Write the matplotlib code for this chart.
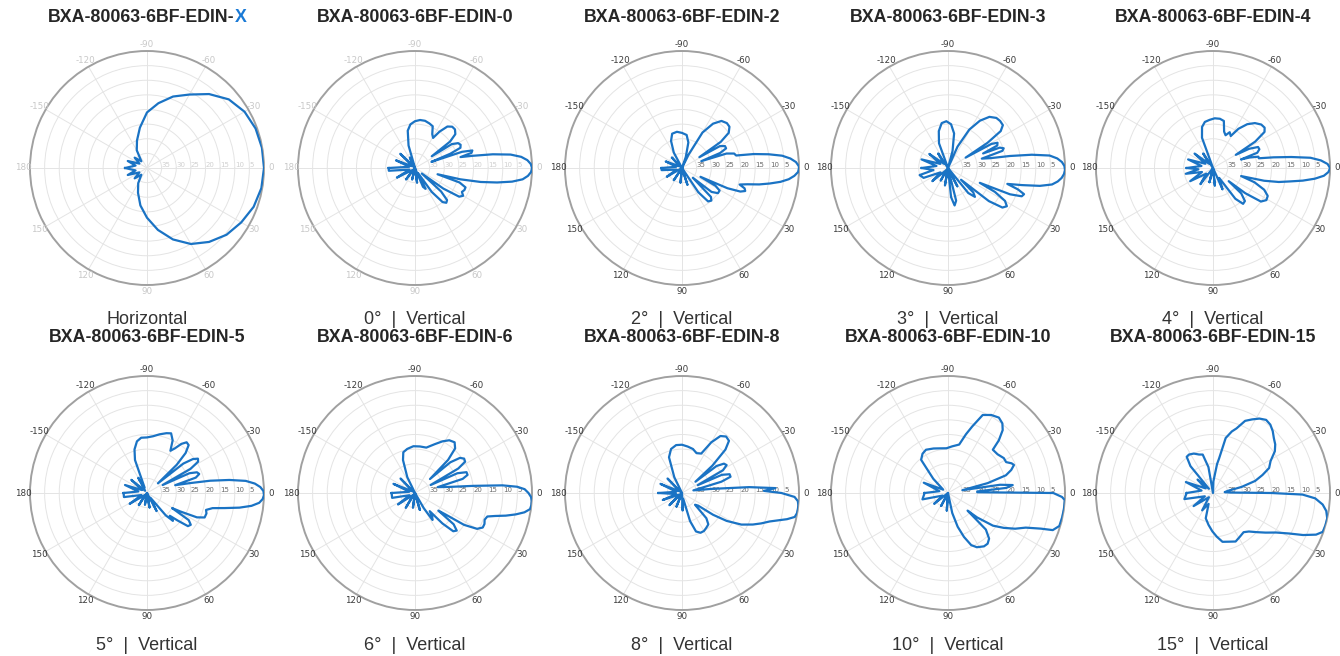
import numpy as np
import matplotlib
matplotlib.use("Agg")
import matplotlib.pyplot as plt

# ---------------- data (angle in degrees, level in dB relative to max) ----------------
titles = ["BXA-80063-6BF-EDIN-X", "BXA-80063-6BF-EDIN-0", "BXA-80063-6BF-EDIN-2",
          "BXA-80063-6BF-EDIN-3", "BXA-80063-6BF-EDIN-4", "BXA-80063-6BF-EDIN-5",
          "BXA-80063-6BF-EDIN-6", "BXA-80063-6BF-EDIN-8", "BXA-80063-6BF-EDIN-10",
          "BXA-80063-6BF-EDIN-15"]
subtitles = ["Horizontal", "0°  |  Vertical", "2°  |  Vertical", "3°  |  Vertical",
             "4°  |  Vertical", "5°  |  Vertical", "6°  |  Vertical", "8°  |  Vertical",
             "10°  |  Vertical", "15°  |  Vertical"]

ang_h = [-180, -168, -160, -150, -140, -130, -120, -110, -100, -90, -80, -70, -60, -50,
         -40, -30, -20, -10, 0, 10, 20, 30, 40, 50, 60, 70, 80, 90, 100, 110, 120, 130, 140, 150,
         160, 168, 180]
db_h = [-32.5, -36, -33, -37, -34.5, -37, -33, -30, -26, -21, -17.5, -14, -11, -7,
        -3.5, -1.5, -0.5, -0.1, 0, -0.3, -1.2, -2.8, -4.5, -7, -10, -14, -18.5, -23, -27, -31, -34, -37, -34.5, -37,
        -33, -36, -32.5]

ang_0 = [-180, -168, -158, -146, -136, -126, -116, -110,
         -106, -101, -96, -90, -84, -78, -72, -67, -63,
         -59, -56, -52, -48, -44, -40, -37, -35,
         -33, -30, -27, -24, -22, -20.5,
         -19, -17, -15, -13.5,
         -12, -10, -8, -6, -4, -2, 0, 2, 4, 6, 8, 10, 12, 14, 15.5,
         18, 21, 24, 27, 30, 33, 36, 39, 42, 45, 48, 51, 55, 59, 63, 67, 72,
         82, 92, 104, 116, 128, 140, 152, 164, 174, 180]
db_0 = [-31, -38, -33, -39, -33, -39, -36, -40,
        -32, -27, -25, -24, -23.5, -23.5, -24, -24.5, -27,
        -28, -25, -22, -21, -21, -22, -25, -33,
        -25, -23, -22.5, -23, -27, -34,
        -23, -19.5, -20, -24,
        -20, -13, -7, -3.5, -1.5, -0.4, 0, -0.3, -1.3, -3, -6.5, -11.5, -17, -24, -32,
        -24, -21.5, -21.5, -22, -21, -22, -28, -37, -28, -24.5, -24, -25, -30, -38, -32, -33, -40,
        -35, -40, -36, -40, -35, -39, -33, -38, -31, -31]

ang_2 = [-180, -168, -158, -146, -134, -124,
         -118, -112, -106, -98, -90, -82, -76, -71, -67,
         -64, -60, -55, -50, -45, -41, -37, -34, -32,
         -30, -27, -24, -21.5, -19.5,
         -18, -15.5, -13, -11, -9, -7, -5, -3, -1, 0, 2, 4, 6, 8, 10, 12, 14, 16,
         18, 20, 22, 24, 25.5, 28, 31, 35, 39, 42, 45, 48, 52, 56, 60,
         72, 84, 96, 110, 124, 138, 150, 164, 174, 180]
db_2 = [-33, -38, -34, -39, -35, -40,
        -34, -30, -27.8, -27.5, -28, -28.6, -31, -36, -40,
        -35, -26, -21.5, -19, -18.3, -18.5, -20, -24, -33,
        -25, -23.5, -23.5, -26, -33,
        -24, -21.5, -21, -15, -10, -5.5, -2.8, -1, -0.1, 0, -0.3, -1.5, -3.3, -6, -9.5, -13, -17, -19.5,
        -17.5, -17, -18.5, -23, -33, -27, -25, -25, -27, -35, -26, -25, -25.5, -30, -40,
        -34, -40, -35, -40, -35, -40, -34, -38, -33, -33]

ang_3 = [-180, -170, -162, -152, -143, -134, -124, -116,
         -110, -104, -98, -92, -86, -80, -75, -70,
         -66, -61, -56, -51, -46, -42, -38, -35, -32.5, -30.5,
         -29, -27, -24.5, -22.5,
         -21.5, -19.5, -17.5, -15.5,
         -13, -11, -9, -7, -5, -3, -1, 1, 3, 5, 7, 9, 11, 13, 15,
         17, 19, 21, 23, 25,
         27, 30, 33, 36, 39, 42,
         44, 47, 51, 55,
         63, 70, 76, 80, 84, 90,
         100, 110, 120, 130, 140, 150, 158, 166, 172, 180]
db_3 = [-31, -36, -30.5, -37, -32, -38, -34, -40,
        -31, -27, -24.5, -24, -25, -28, -34, -40,
        -32, -25, -20.5, -17.5, -16.2, -16, -16.2, -18, -24, -33,
        -23, -21, -21.5, -27,
        -21, -19.8, -20.5, -28,
        -25, -18.5, -11, -5, -2.5, -1, -0.2, 0, -0.3, -1, -2.2, -4, -8, -14, -19,
        -15, -12.5, -13, -17, -28,
        -22, -17.5, -16, -17, -22, -34,
        -28, -26.5, -29, -40,
        -33, -40, -28.5, -27, -30, -40,
        -34, -40, -35, -39, -33, -37, -31, -30, -35, -31]

ang_4 = [-180, -170, -161, -151, -142, -133, -124, -116,
         -110, -105, -100, -94, -88, -82, -77, -73,
         -69, -65, -61,
         -57, -52, -47, -42, -38, -35, -32, -30,
         -28, -25, -22, -19, -17,
         -16, -14, -12, -10, -8, -6, -4, -2, 0, 2, 4, 6, 8, 10, 12, 14, 16,
         19, 23, 27, 31, 35, 38, 40,
         42, 46, 50, 54, 58,
         66, 74, 84, 94, 104, 116, 128, 140, 150, 160, 168, 175, 180]
db_4 = [-31, -36, -31, -37, -32, -38, -34, -40,
        -29, -25.5, -24, -23.5, -23, -23, -23.5, -27,
        -28, -26.5, -27.5,
        -24, -21, -19, -17.8, -17.6, -18.5, -23, -31,
        -26, -23, -22.9, -24, -30,
        -27, -24, -24, -19, -13, -6.5, -3, -0.8, 0, -0.5, -2, -5, -9, -13.5, -17, -22, -30,
        -25, -21, -19, -18.7, -20, -26, -33,
        -27, -24.3, -24, -27, -36,
        -32, -40, -34, -40, -35, -40, -33, -37, -31, -36, -30.5, -35, -31]

ang_5 = [-180, -170, -160, -150, -140, -130, -120, -114,
         -110, -106, -101, -96, -90, -84, -78, -72, -68, -64, -61, -58, -55, -52, -49, -46, -43.5, -41.5,
         -39, -36.5, -34, -31.5, -29, -27,
         -25, -22.5, -20, -17.5, -15.5,
         -13, -11, -9, -7, -5, -3, -1, 1, 3, 5, 7, 9, 11, 13, 16,
         19, 23, 26, 29, 31, 33, 36, 39, 42, 45, 47, 50, 54,
         62, 70, 80, 90, 100, 112, 124, 136, 148, 160, 170, 180]
db_5 = [-32, -37, -32, -38, -33, -39, -34, -38,
        -28, -24.5, -22, -21, -21, -20.5, -19.5, -18.5, -18, -20, -23.5, -22, -19.5, -18, -18.3, -21, -26, -35,
        -24, -20.5, -19, -19.5, -23, -34,
        -24, -21.5, -21, -22.5, -30,
        -25, -18, -11.5, -6, -3, -1.2, -0.2, 0, -0.4, -1.5, -4, -8, -13, -17, -19,
        -18.5, -18.6, -21, -27, -30, -23, -21.5, -22, -26, -29, -27, -30, -38,
        -33, -40, -35, -40, -36, -40, -35, -39, -33, -38, -32, -32]

ang_6 = [-180, -168, -157, -146, -135, -124, -116,
         -110, -106, -100, -92, -84, -76, -68, -62, -57, -52, -48, -45, -43,
         -41, -38, -35, -32, -29.5, -27,
         -25, -22, -19, -16.5, -14.5,
         -10, -7, -5, -3.5, -2, 0, 2, 4, 6, 8, 10, 12, 14, 16, 18, 21, 24, 27, 30, 33, 35, 37,
         39, 42, 45, 48, 51,
         54, 57, 60, 64,
         74, 86, 98, 110, 122, 134, 146, 158, 168, 180]
db_6 = [-32, -38, -32, -39, -33, -40, -34,
        -28, -25.5, -24.7, -24, -24, -24, -22, -20, -18.5, -18, -19.5, -24, -33,
        -24, -20.5, -19.5, -19.8, -23, -34,
        -24, -21, -21, -23, -32,
        -28, -20, -10, -5, -2.5, -1.2, -0.3, 0, 0, -0.3, -2, -4.8, -8, -11.5, -14, -14.5, -14, -14, -15.5, -20, -27, -30,
        -23, -20.8, -21.5, -26, -32,
        -30, -29, -34, -40,
        -34, -40, -35, -40, -34, -39, -33, -38, -32, -32]

ang_8 = [-180, -168, -157, -146, -135, -124, -116,
         -110, -104, -97, -90, -83, -76, -70, -64, -60, -56, -52, -48, -45, -42, -40,
         -38, -35, -32, -29, -26.5,
         -24.5, -21.5, -18.5, -16, -13,
         -8, -5, -3, -1.5, 0, 2, 4, 6, 8, 10, 12, 14, 16, 18, 21, 24, 28, 32, 35, 38,
         42, 46, 50, 55, 60, 65, 70, 74, 78,
         88, 100, 112, 124, 136, 148, 160, 170, 180]
db_8 = [-32, -38, -32, -39, -33, -40, -34,
        -27, -24.5, -23.5, -23.5, -24, -24.5, -25.5, -25, -20, -16.5, -15.5, -16, -19, -26, -34,
        -25, -22.5, -22, -24, -34,
        -25, -22.5, -22.5, -26, -36,
        -30, -17, -8, -12, -6, -1.5, -0.3, 0, 0, -0.1, -0.6, -3, -6, -8.5, -11, -13.5, -17, -22, -27, -33,
        -34, -28, -26, -25.5, -25, -25, -26, -30, -38,
        -34, -40, -35, -40, -34, -39, -33, -38, -32]

ang_10 = [-180, -168, -157, -145, -136,
          -129, -123, -117, -108, -100, -92, -85, -77, -73,
          -70, -66, -61, -56, -52, -49, -46, -44, -38, -32, -28, -25, -23, -20, -17, -14, -11,
          -9, -7, -5, -3, -1.5,
          0, 2, 3.5, 6, 8, 12, 16.5, 19.5, 21, 24, 28, 32, 36, 40, 42,
          44, 48, 52, 56, 62, 66, 70, 74, 78, 84,
          94, 106, 118, 130, 142, 154, 166, 180]
db_10 = [-32, -37, -31, -38, -33,
         -25.4, -24, -23.4, -24, -24.5, -24.7, -24, -23, -19,
         -15.8, -10.8, -9.5, -8.9, -9.8, -11.5, -15, -18.7, -18.5, -17.5, -17.5, -16, -15.5, -17, -19.3, -26, -35,
         -22, -17.7, -20, -30, -30,
         -4, -1, 0, 0, 0, -0.1, -0.3, -2, -6, -10.9, -14, -17.5, -21, -27, -31,
         -22, -19, -18, -18, -19, -20.5, -24, -28, -33, -40,
         -34, -40, -35, -40, -34, -38, -31, -32]

ang_15 = [-180, -168, -158, -148, -139, -134,
          -130, -126, -122, -116, -110, -105, -100, -95, -88,
          -82, -80, -77, -73, -70, -66, -62, -58, -54, -50, -46, -42, -38, -34, -29, -24, -20, -16, -12, -8, -4, -1.5,
          0, 1, 3, 6, 9, 12.5, 16, 19.5, 22, 25, 28, 32, 37, 42, 47, 52, 58, 65, 72, 79, 85, 91, 98, 106,
          112, 122, 134, 146, 158, 168, 180]
db_15 = [-31, -36, -30, -37, -33, -38,
         -28, -24.7, -24.5, -25, -26, -26.4, -31, -40, -36,
         -30, -28, -20.7, -18, -16.5, -13, -11.5, -10, -9.1, -9.5, -10.6, -12, -13, -14.5, -17.5, -19, -22, -25, -30, -35, -36, -34,
         -20, -9.4, -5, -2.3, -0.8, 0, 0, -0.2, -2, -6, -10.5, -14.5, -17.5, -20, -22, -23, -22.5, -21.7, -22.5, -23, -25, -26.9, -29, -31,
         -36, -33, -38, -32, -37, -30, -31]

# ---------------- layout ----------------
W, H = 1340, 656
fig = plt.figure(figsize=(W / 100, H / 100), dpi=100)
fig.patch.set_facecolor("white")

panels = [(ang_h, db_h), (ang_0, db_0), (ang_2, db_2), (ang_3, db_3), (ang_4, db_4),
          (ang_5, db_5), (ang_6, db_6), (ang_8, db_8), (ang_10, db_10), (ang_15, db_15)]

col_x = [147, 415, 682, 948, 1213]
row_y = [168, 493]
title_y = [18, 337]
sub_y = [320, 645]
R = 117

line_color = "#1a73c4"
theta_pos = [0, 30, 60, 90, 120, 150, 180, 210, 240, 270, 300, 330]
theta_labels = ["0", "30", "60", "90", "120", "150", "180", "-150", "-120", "-90", "-60", "-30"]
r_ticks = [-35, -30, -25, -20, -15, -10, -5]
r_labels = ["35", "30", "25", "20", "15", "10", "5"]

for i, (ang, db) in enumerate(panels):
    r, c = divmod(i, 5)
    cx, cy = col_x[c], row_y[r]
    ax = fig.add_axes([(cx - R) / W, 1 - (cy + R) / H, 2 * R / W, 2 * R / H], projection="polar")
    ax.set_theta_zero_location("E")
    ax.set_theta_direction(-1)
    ax.set_ylim(-40, 0)
    faint = i in (0, 1)
    lab_col = "#c8c8c8" if faint else "#3a3a3a"
    rl_col = "#d0d0d0" if faint else "#6a6a6a"
    ax.set_thetagrids(theta_pos, [""] * len(theta_pos))
    for tp, tl in zip(theta_pos, theta_labels):
        ax.text(np.deg2rad(tp), 2.3, tl, ha="center", va="center", fontsize=6.3,
                color=lab_col, clip_on=False)
    ax.set_rticks(r_ticks)
    ax.set_yticklabels(r_labels, fontsize=5, color=rl_col)
    ax.set_rlabel_position(0)
    ax.grid(True, color="#e4e4e4", linewidth=0.7)
    ax.spines["polar"].set_color("#a0a0a0")
    ax.spines["polar"].set_linewidth(1.4)
    ax.set_facecolor("white")
    ax.plot(np.deg2rad(ang), db, color=line_color, linewidth=1.6, zorder=5)

    if i > 0:
        fig.text(cx / W, 1 - title_y[r] / H, titles[i], ha="center", va="center",
                 fontsize=12.8, fontweight="bold", color="#262626", family="Liberation Sans")
    fig.text(cx / W, 1 - sub_y[r] / H, subtitles[i], ha="center", va="center",
             fontsize=13, color="#333333", family="Liberation Sans")

# first title with the blue "X"
renderer = fig.canvas.get_renderer()
prefix = titles[0][:-1]
t1 = fig.text(0, 1 - title_y[0] / H, prefix, ha="left", va="center", fontsize=12.8,
              fontweight="bold", color="#262626", family="Liberation Sans")
t2 = fig.text(0, 1 - title_y[0] / H, titles[0][-1], ha="left", va="center", fontsize=12.8,
              fontweight="bold", color="#1a7ad6", family="Liberation Sans")
w1 = t1.get_window_extent(renderer).width
w2 = t2.get_window_extent(renderer).width
x0 = col_x[0] - (w1 + w2) / 2
t1.set_x(x0 / W)
t2.set_x((x0 + w1 + 0.5) / W)

fig.savefig("out.png", dpi=100, facecolor="white")
